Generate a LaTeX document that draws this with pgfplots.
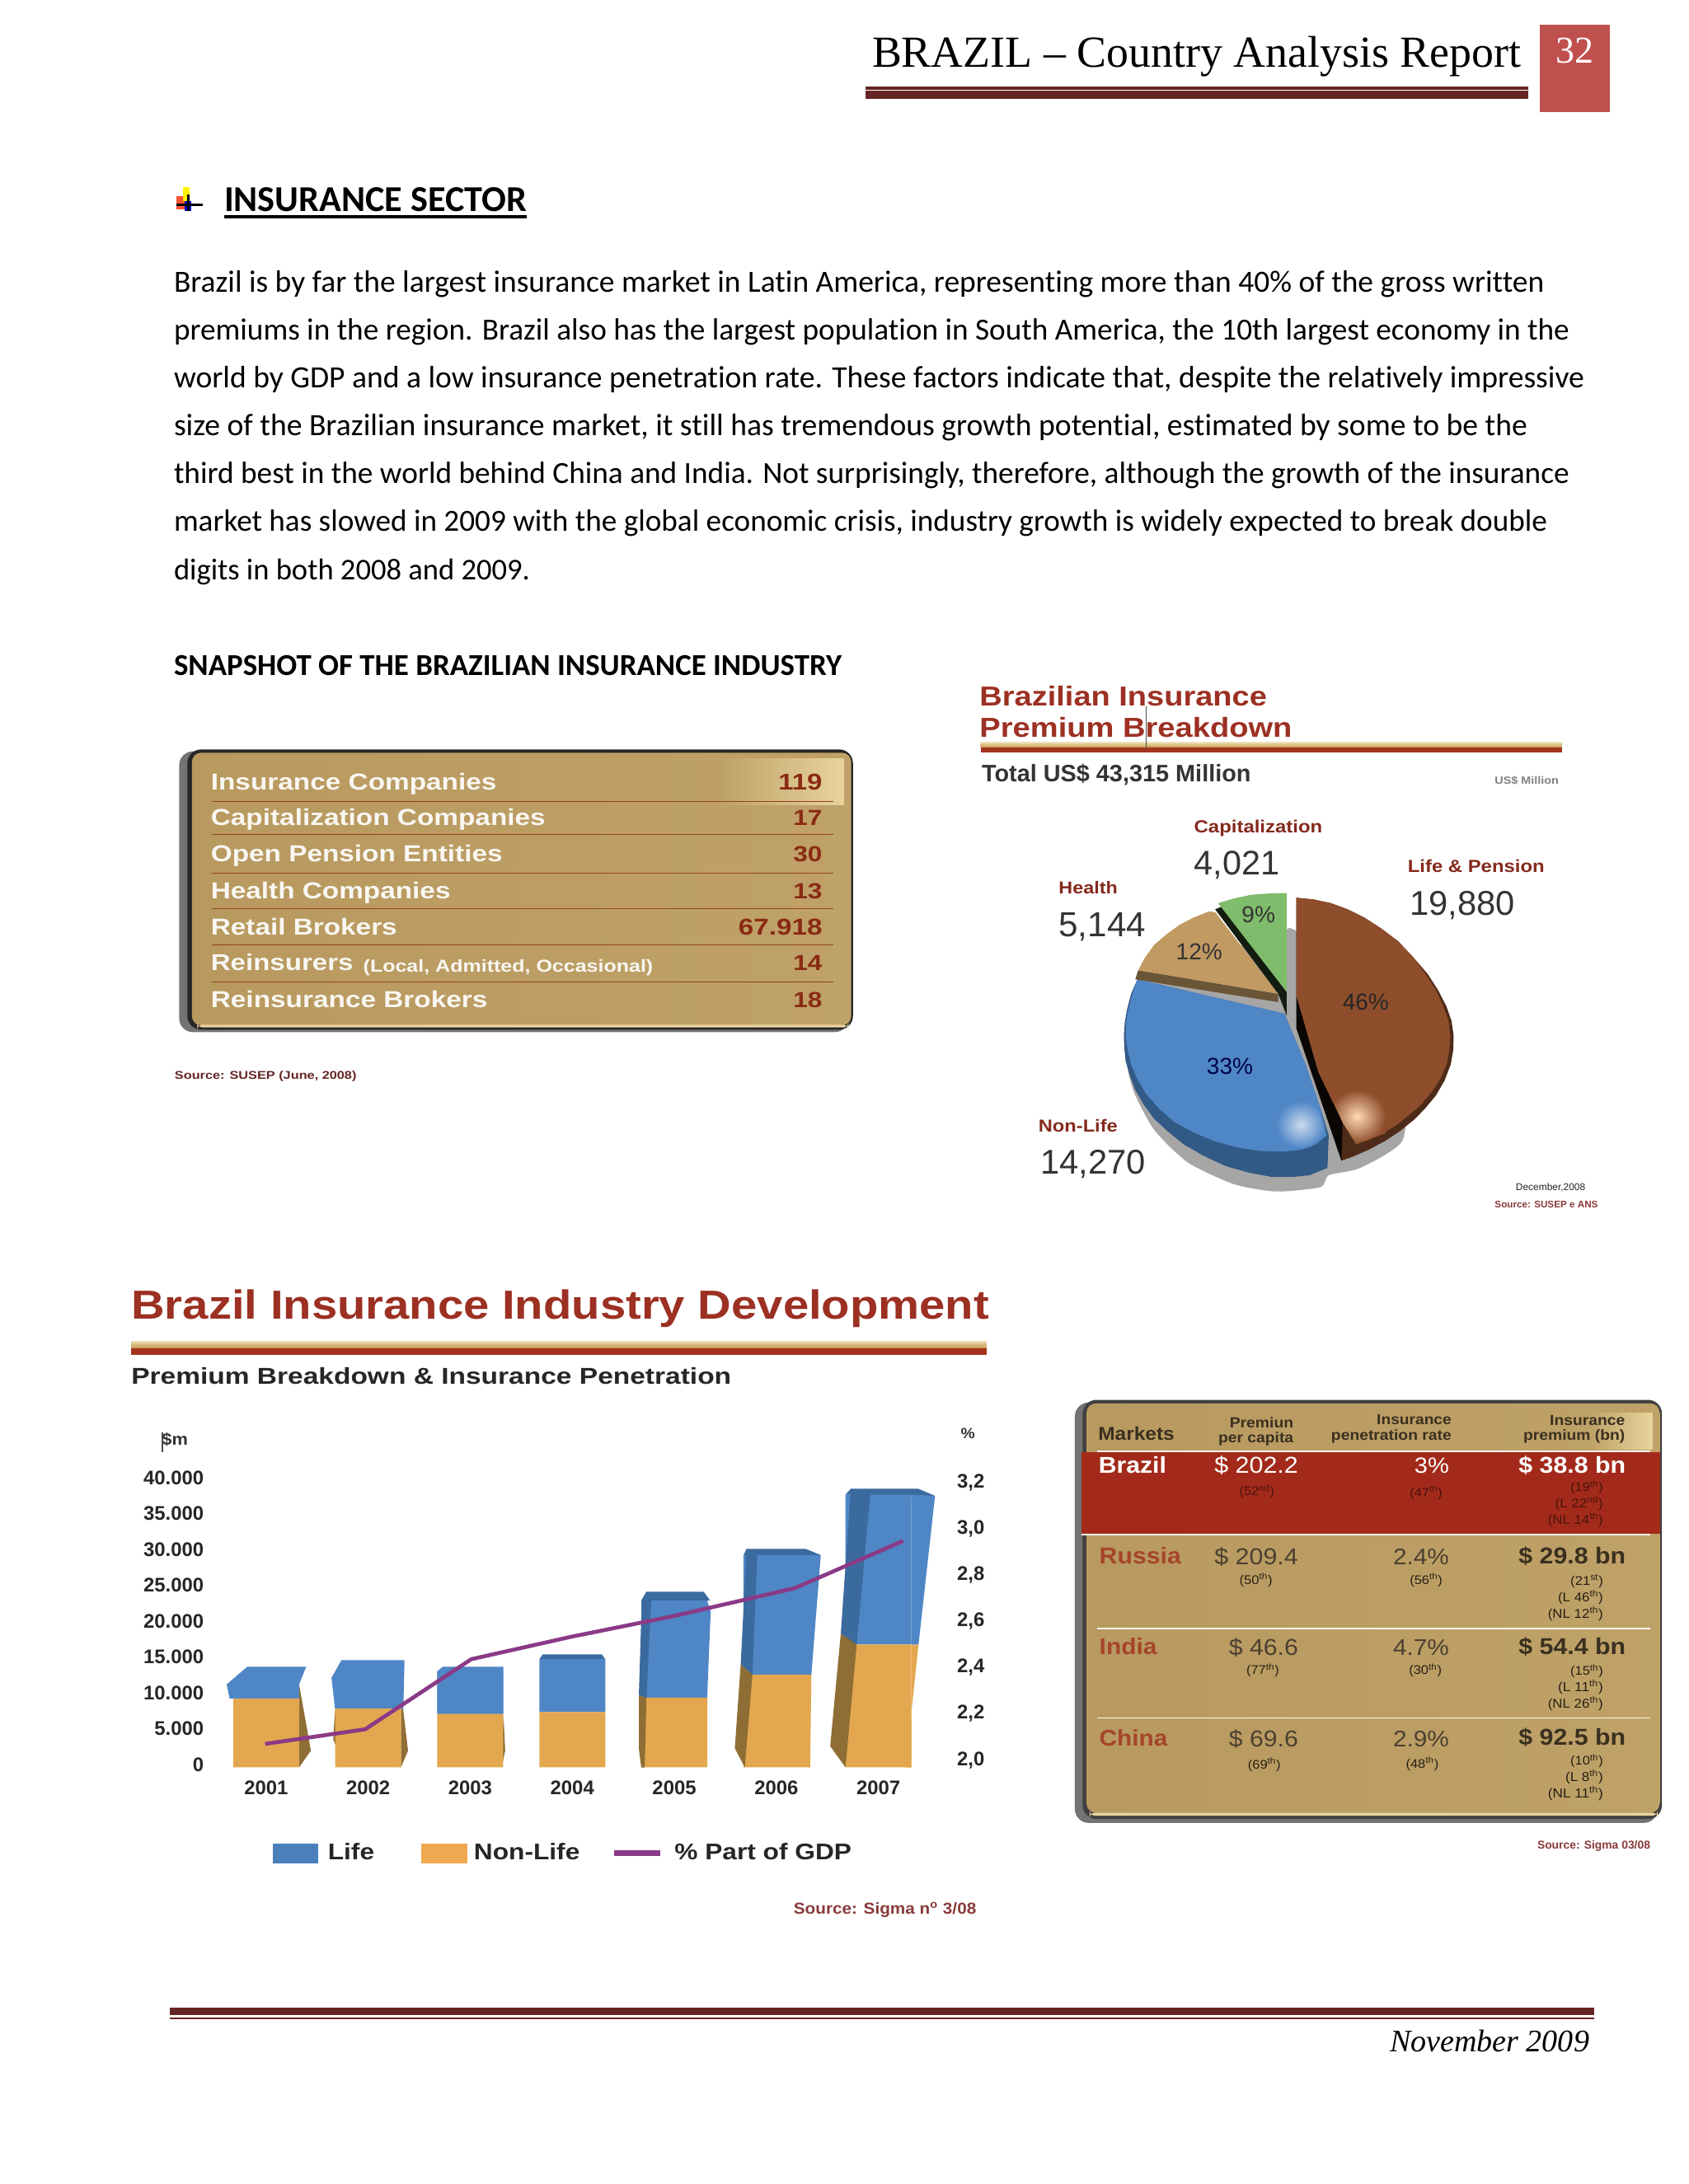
\documentclass[border=0pt]{standalone}
\usepackage{fontspec}
\usepackage{graphicx}
\usepackage{pgfplots}
\usepackage{pgfplotstable}
\pgfplotsset{compat=1.18}
\setmainfont{Liberation Sans}
\newfontfamily\calfont[Ligatures=NoCommon]{Carlito}
\newfontfamily\serfont{Liberation Serif}
\definecolor{hdr}{HTML}{652525}
\definecolor{pgbox}{HTML}{C0504D}
\definecolor{ttl}{HTML}{9C3022}
\definecolor{rulered}{HTML}{A5321F}
\definecolor{ruletan}{HTML}{C79A4C}
\definecolor{ruletanL}{HTML}{EADBB0}
\definecolor{barblue}{HTML}{4F86C6}
\definecolor{barblued}{HTML}{3B6A9E}
\definecolor{barorange}{HTML}{E3A84F}
\definecolor{barorangeL}{HTML}{F0A850}
\definecolor{barorangeD}{HTML}{8F6E35}
\definecolor{linepurple}{HTML}{8A3A86}
\definecolor{gold}{HTML}{B8995F}
\definecolor{goldL}{HTML}{E8D49C}
\definecolor{numred}{HTML}{8A2A14}
\definecolor{srcred}{HTML}{8A3A3A}
\definecolor{tcell}{HTML}{4A4030}
\definecolor{tbold}{HTML}{3A3020}
\definecolor{tcountry}{HTML}{A5452A}
\definecolor{tband}{HTML}{A32A1A}

\pgfplotstableread{
year nonlife life
2001 9600 1970
2002 8185 4305
2003 7445 5970
2004 7690 7390
2005 9720 13540
2006 12925 16675
2007 17110 20920
}\premiums

\pgfplotstableread{
year gdp
2000.99 2.065
2001.97 2.128
2003.01 2.431
2003.99 2.528
2005.00 2.618
2006.18 2.738
2007.24 2.942
}\penetration

% text placed by left end, baseline and width, in the frame (ox,oy,sx,sy)
\def\ox{0}\def\oy{0}\def\sx{1}\def\sy{1}\def\vs{1}
\newcommand{\Z}[5][]{%
  \pgfmathsetmacro\zA{\ox+(#2)/\sx}%
  \pgfmathsetmacro\zB{\oy+(#3)/\sy}%
  \pgfmathsetmacro\zW{(#4)/\sx*0.36}%
  \node[anchor=base west,inner sep=0pt,outer sep=0pt,#1] at (\zA,\zB)
    {\resizebox{\zW pt}{!}{\scalebox{1}[\vs]{#5}}};%
}
\newcommand{\R}[5][]{%
  \pgfmathsetmacro\zA{\ox+(#2)/\sx}%
  \pgfmathsetmacro\zB{\oy+(#3)/\sy}%
  \pgfmathsetmacro\zC{\ox+(#4)/\sx}%
  \pgfmathsetmacro\zD{\oy+(#5)/\sy}%
  \path[#1] (\zA,\zB) rectangle (\zC,\zD);%
}
\tikzset{
  hb/.style={font=\fontsize{10}{12}\bfseries\selectfont},
  hr/.style={font=\fontsize{10}{12}\selectfont},
  cb/.style={font=\fontsize{10}{12}\calfont\selectfont},
  cbb/.style={font=\fontsize{10}{12}\calfont\bfseries\selectfont},
  sr/.style={font=\fontsize{10}{12}\serfont\selectfont},
  si/.style={font=\fontsize{10}{12}\serfont\itshape\selectfont},
}
\pgfplotsset{
  zaxis/.style={axis lines=none,scale only axis,clip=false,
    xmin=0,xmax=1568,ymin=0,ymax=1568,y dir=reverse},
  face/.style={draw=none,fill=#1,mark=none},
}

\begin{document}
\begin{tikzpicture}
\path[use as bounding box,fill=white] (0,0) rectangle (737.28pt,-954pt);

\begin{scope}[x=0.36pt,y=-0.36pt]
% ---------- page header
\R[fill=hdr]{1050}{105}{1854}{109}
\R[fill=hdr]{1050}{110}{1854}{120}
\R[fill=pgbox]{1868}{30}{1953}{136}
\Z[sr]{1058}{81}{787}{BRAZIL – Country Analysis Report}
\Z[sr,text=white]{1887}{76}{46}{32}
% bullet
\R[fill=red!70!orange,opacity=.8]{214}{238}{226}{254}
\R[fill=yellow]{222}{227}{230}{244}
\R[fill=blue!80!black]{224}{244}{232}{256}
\R[fill=black]{214}{247}{246}{250}
\R[fill=black]{227}{236}{230}{256}
\Z[cbb]{272}{256}{367}{INSURANCE SECTOR}
\R[fill=black]{272}{261}{639}{265}
% ---------- body
\Z[cb]{211}{354}{1662}{Brazil is by far the largest insurance market in Latin America, representing more than 40\% of the gross written}
\Z[cb]{211}{412}{1693}{premiums in the region. Brazil also has the largest population in South America, the 10th largest economy in the}
\Z[cb]{211}{470}{1711}{world by GDP and a low insurance penetration rate. These factors indicate that, despite the relatively impressive}
\Z[cb]{211}{528}{1642}{size of the Brazilian insurance market, it still has tremendous growth potential, estimated by some to be the}
\Z[cb]{211}{586}{1693}{third best in the world behind China and India. Not surprisingly, therefore, although the growth of the insurance}
\Z[cb]{211}{644}{1666}{market has slowed in 2009 with the global economic crisis, industry growth is widely expected to break double}
\Z[cb]{211}{703}{432}{digits in both 2008 and 2009.}
\Z[cbb]{211}{819}{810}{SNAPSHOT OF THE BRAZILIAN INSURANCE INDUSTRY}
% ---------- footer
\R[fill=hdr]{206}{2436}{1934}{2445}
\R[fill=hdr]{206}{2448}{1934}{2450}
\Z[si]{1686}{2489}{242}{November 2009}

% ---------- left panel
\def\ox{190}\def\oy{880}\def\sx{1.823}\def\sy{3}\def\vs{0.84}
\R[fill=black!55,rounded corners=6pt]{50}{95}{1530}{1117}
\R[fill=black!85,rounded corners=6pt]{68}{88}{1540}{1108}
\R[left color=gold,right color=gold!85!goldL,rounded corners=4pt]{78}{100}{1536}{1092}
\R[left color=gold!85!goldL,right color=goldL]{1250}{120}{1520}{290}
\R[fill=goldL,rounded corners=2pt]{90}{1090}{1530}{1100}
\foreach \zz in {276,397,537,667,798,934}{\R[fill=numred!80!gold]{122}{\zz}{1497}{\zz+3}}
\tikzset{pl/.style={hb,text=white!92!gold},pn/.style={hb,text=numred}}
\Z[pl]{120}{235}{632}{Insurance Companies}
\Z[pl]{120}{365}{740}{Capitalization Companies}
\Z[pl]{120}{497}{645}{Open Pension Entities}
\Z[pl]{120}{630}{530}{Health Companies}
\Z[pl]{120}{762}{412}{Retail Brokers}
\Z[pl]{120}{893}{315}{Reinsurers}
\Z[pl]{457}{897}{641}{(Local, Admitted, Occasional)}
\Z[pl]{120}{1028}{612}{Reinsurance Brokers}
\Z[pn]{1375}{235}{97}{119}
\Z[pn]{1408}{365}{64}{17}
\Z[pn]{1408}{497}{64}{30}
\Z[pn]{1408}{630}{64}{13}
\Z[pn]{1287}{762}{185}{67.918}
\Z[pn]{1408}{893}{64}{14}
\Z[pn]{1408}{1028}{64}{18}
\Z[hb,text=hdr]{40}{1288}{402}{Source: SUSEP (June, 2008)}

% ---------- right table
\def\ox{1270}\def\oy{1660}\def\sx{2.119}\def\sy{2.751}\def\vs{0.92}
\R[fill=black!55,rounded corners=6pt]{72}{115}{1570}{1518}
\R[fill=black!75,rounded corners=6pt]{92}{106}{1581}{1505}
\R[left color=gold,right color=gold!85!goldL,rounded corners=4pt]{102}{118}{1575}{1484}
\R[left color=gold!85!goldL,right color=goldL]{1400}{150}{1557}{272}
\R[fill=goldL,rounded corners=2pt]{110}{1484}{1570}{1494}
\R[fill=tband]{90}{280}{1577}{553}
\foreach \zz/\zs in {275/130,552/90,866/130,1165/130}{\R[fill=white!85!goldL]{\zs}{\zz}{1551}{\zz+5}}
\tikzset{th/.style={hb,text=tbold},tc/.style={hr,text=tcell},tr/.style={hr,text=black!80!gold},
  bw/.style={hb,text=white},rw/.style={hr,text=white},bs/.style={hr,text=black!55!tband},
  cn/.style={hb,text=tcountry},bd/.style={hb,text=tbold}}
\Z[th]{132}{240}{196}{Markets}
\Z[th]{470}{198}{164}{Premiun}
\Z[th]{441}{250}{193}{per capita}
\Z[th]{848}{187}{192}{Insurance}
\Z[th]{731}{240}{309}{penetration rate}
\Z[th]{1293}{192}{193}{Insurance}
\Z[th]{1225}{240}{261}{premium (bn)}
% Brazil
\Z[bw]{133}{350}{174}{Brazil}
\Z[rw]{431}{352}{215}{\$ 202.2}
\Z[rw]{945}{352}{89}{3\%}
\Z[bw]{1213}{352}{275}{\$ 38.8 bn}
\Z[bs]{495}{425}{90}{(52\textsuperscript{nd})}
\Z[bs]{933}{430}{84}{(47\textsuperscript{th})}
\Z[bs]{1346}{412}{84}{(19\textsuperscript{th})}
\Z[bs]{1307}{465}{123}{(L 22\textsuperscript{nd})}
\Z[bs]{1288}{520}{142}{(NL 14\textsuperscript{th})}
% Russia
\Z[cn]{135}{652}{210}{Russia}
\Z[tc]{431}{657}{215}{\$ 209.4}
\Z[tc]{890}{657}{144}{2.4\%}
\Z[bd]{1213}{652}{275}{\$ 29.8 bn}
\Z[tr]{495}{722}{85}{(50\textsuperscript{th})}
\Z[tr]{933}{722}{84}{(56\textsuperscript{th})}
\Z[tr]{1346}{725}{84}{(21\textsuperscript{st})}
\Z[tr]{1314}{780}{116}{(L 46\textsuperscript{th})}
\Z[tr]{1288}{835}{142}{(NL 12\textsuperscript{th})}
% India
\Z[cn]{135}{957}{148}{India}
\Z[tc]{468}{960}{178}{\$ 46.6}
\Z[tc]{890}{960}{144}{4.7\%}
\Z[bd]{1213}{955}{275}{\$ 54.4 bn}
\Z[tr]{513}{1023}{84}{(77\textsuperscript{th})}
\Z[tr]{931}{1023}{84}{(30\textsuperscript{th})}
\Z[tr]{1346}{1025}{84}{(15\textsuperscript{th})}
\Z[tr]{1314}{1080}{116}{(L 11\textsuperscript{th})}
\Z[tr]{1288}{1135}{142}{(NL 26\textsuperscript{th})}
% China
\Z[cn]{135}{1260}{175}{China}
\Z[tc]{468}{1263}{178}{\$ 69.6}
\Z[tc]{890}{1263}{144}{2.9\%}
\Z[bd]{1213}{1258}{275}{\$ 92.5 bn}
\Z[tr]{517}{1338}{84}{(69\textsuperscript{th})}
\Z[tr]{923}{1335}{84}{(48\textsuperscript{th})}
\Z[tr]{1346}{1325}{84}{(10\textsuperscript{th})}
\Z[tr]{1333}{1380}{97}{(L 8\textsuperscript{th})}
\Z[tr]{1288}{1435}{142}{(NL 11\textsuperscript{th})}
\def\ox{0}\def\oy{0}\def\sx{1}\def\sy{1}\def\vs{1}
\Z[hb,text=srcred]{1865}{2243}{137}{Source: Sigma 03/08}

% ---------- pie headings
\def\ox{1140}\def\oy{790}\def\sx{1.96}\def\sy{2.272}\def\vs{0.875}
\Z[hb,text=ttl]{95}{150}{683}{Brazilian Insurance}
\Z[hb,text=ttl]{95}{237}{743}{Premium Breakdown}
\R[top color=ruletanL,bottom color=ruletan]{97}{252}{1480}{265}
\R[fill=rulered]{97}{265}{1480}{280}
\R[fill=black!70]{489}{152}{491}{272}
\def\vs{1}
\Z[hb,text=black!80]{100}{360}{640}{Total US\$ 43,315 Million}
\def\vs{0.89}
\Z[hb,text=black!50]{1320}{366}{152}{US\$ Million}
\Z[hb,text=ttl!85!black]{605}{500}{305}{Capitalization}
\Z[hb,text=ttl!85!black]{1113}{610}{325}{Life \& Pension}
\Z[hb,text=ttl!85!black]{283}{670}{140}{Health}
\Z[hb,text=ttl!85!black]{235}{1325}{188}{Non-Life}
\def\vs{1}
\Z[hr,text=black!80]{605}{617}{203}{4,021}
\Z[hr,text=black!80]{1118}{727}{250}{19,880}
\Z[hr,text=black!80]{283}{787}{207}{5,144}
\Z[hr,text=black!80]{240}{1442}{250}{14,270}
\Z[hr,text=black!85]{1370}{1488}{165}{December,2008}
\Z[hb,text=srcred]{1320}{1534}{245}{Source: SUSEP e ANS}

% ---------- bar chart headings
\def\ox{100}\def\oy{1500}\def\sx{1.4}\def\sy{1.867}\def\vs{0.875}
\Z[hb,text=ttl]{83}{186.7}{1457}{Brazil Insurance Industry Development}
\R[top color=ruletanL,bottom color=ruletan]{83}{238}{1536}{253}
\R[fill=rulered]{83}{253}{1536}{268}
\def\vs{0.83}
\Z[hb,text=black!85]{83}{335}{1019}{Premium Breakdown \& Insurance Penetration}
\def\vs{0.93}
\Z[hb,text=srcred]{1208}{1535}{310}{Source: Sigma n\textsuperscript{o} 3/08}
\Z[hb,text=black!80]{135}{474}{44}{\$m}
\R[fill=black!70]{135}{445}{137}{490}
\Z[hb,text=black!80]{1492}{458}{24}{\%}
\end{scope}

% ---------- pie (outline points)
\begin{axis}[zaxis,at={(410.4pt,-532.8pt)},anchor=south west,width=288pt,height=248.4pt]
 \addplot[face=black!35,smooth,tension=.4] coordinates {(825,770)(845,770)(1000,900)(1100,1200)(1100,1350)(1000,1425)(925,1445)(905,1478)(800,1490)(700,1470)(590,1410)(510,1320)(460,1210)(445,1110)(480,900)} --cycle;
 % blue
 \addplot[face=barblued!85!black] coordinates {(470,905)(455,945)(445,990)(440,1025)(438,1060)(439,1095)(442,1130)(452,1170)(465,1210)(485,1250)(510,1290)(543,1325)(580,1360)(628,1392)(680,1420)(735,1438)(790,1450)(840,1450)(880,1445)(922,1425)(925,1335)(905,1260)(870,1140)(820,1000)} --cycle;
 \addplot[face=barblue] coordinates {(470,905)(458,945)(448,990)(443,1025)(442,1060)(447,1100)(455,1140)(470,1180)(490,1220)(522,1262)(560,1300)(605,1328)(650,1350)(705,1368)(760,1378)(815,1380)(860,1375)(895,1360)(920,1335)(905,1260)(870,1140)(820,1000)} --cycle;
 \addplot[draw=none,shading=radial,inner color=white!70!barblue,outer color=barblue,mark=none] coordinates {(800,1240)(895,1240)(918,1330)(880,1368)(800,1372)} --cycle;
 % brown
 \definecolor{piebrown}{HTML}{8E4E2C}
 \addplot[face=black!45!piebrown] coordinates {(848,680)(890,685)(930,695)(970,712)(1010,735)(1050,765)(1090,800)(1125,843)(1160,890)(1185,935)(1205,980)(1217,1020)(1222,1060)(1221,1100)(1215,1140)(1200,1185)(1180,1225)(1155,1260)(1130,1290)(1095,1323)(1060,1350)(1020,1375)(980,1395)(955,1405)(945,1330)(900,1160)(848,950)} --cycle;
 \addplot[fill=black!95!brown,draw=none,mark=none] coordinates {(848,950)(848,1040)(955,1405)(958,1300)} --cycle;
 \addplot[face=piebrown] coordinates {(848,680)(890,685)(930,695)(970,712)(1010,735)(1050,765)(1090,800)(1125,843)(1155,890)(1180,935)(1198,980)(1210,1020)(1214,1060)(1212,1100)(1205,1140)(1190,1180)(1170,1215)(1145,1250)(1115,1280)(1085,1308)(1050,1332)(1020,1348)(990,1360)(958,1300)(900,1160)(848,950)} --cycle;
 \addplot[draw=none,shading=radial,inner color=white!70!orange,outer color=piebrown,mark=none] coordinates {(925,1210)(1060,1210)(1060,1330)(990,1358)(958,1300)} --cycle;
 % health
 \definecolor{pietan}{HTML}{C19A62}
 \addplot[face=pietan!55!black] coordinates {(472,880)(465,905)(805,968)(805,945)} --cycle;
 \addplot[face=pietan] coordinates {(640,718)(603,735)(570,755)(538,782)(510,810)(488,845)(472,880)(805,945)(655,720)} --cycle;
 % capitalization
 \definecolor{piegreen}{HTML}{7FBC6B}
 \addplot[face=black!85!piegreen] coordinates {(655,712)(670,705)(825,925)(825,1005)(805,945)} --cycle;
 \addplot[face=piegreen] coordinates {(662,695)(700,682)(740,672)(785,668)(825,667)(825,940)} --cycle;
 \node[font=\fontsize{10.1}{12}\selectfont,text=black!80] at (axis cs:758,727) {9\%};
 \node[font=\fontsize{10.1}{12}\selectfont,text=black!80] at (axis cs:617,828) {12\%};
 \node[font=\fontsize{10.1}{12}\selectfont,text=black!85] at (axis cs:1013,967) {46\%};
 \node[font=\fontsize{10.1}{12}\selectfont,text=blue!30!black] at (axis cs:690,1146) {33\%};
\end{axis}

% ---------- 3D faces behind the bars (zoom frame 100,1500)
\begin{axis}[zaxis,at={(36pt,-842.4pt)},anchor=south west,width=403.2pt,height=302.4pt]
 % 2001
 \addplot[face=barorangeD] coordinates {(368,1015)(388,1165)(368,1203)} --cycle;
 \addplot[face=barblue] coordinates {(245,1015)(280,975)(380,975)(368,1015)(368,1047)(250,1047)} --cycle;
 % 2002
 \addplot[face=barorangeD] coordinates {(541,1030)(553,1165)(541,1203)} --cycle;
 \addplot[face=barblue] coordinates {(423,1000)(440,960)(547,960)(545,1070)(429,1070)} --cycle;
 \addplot[face=barorangeD] coordinates {(429,1070)(426,1140)(434,1165)(434,1203)} --cycle;
 % 2003
 \addplot[face=barblue] coordinates {(603,985)(612,975)(715,975)(715,1082)(603,1082)} --cycle;
 \addplot[face=barorangeD] coordinates {(715,1082)(718,1165)(712,1203)} --cycle;
 % 2004
 \addplot[face=barblued] coordinates {(776,958)(782,947)(882,947)(888,958)} --cycle;
 % 2005
 \addplot[face=barblued] coordinates {(949,825)(958,805)(1055,805)(1066,825)} --cycle;
 \addplot[face=barblue] coordinates {(1061,825)(1067,850)(1061,1045)} --cycle;
 % 2006
 \addplot[face=barblued] coordinates {(1123,722)(1128,708)(1228,708)(1254,722)} --cycle;
 \addplot[face=barblue] coordinates {(1234,722)(1254,722)(1238,993)(1234,993)} --cycle;
 \addplot[face=barorange] coordinates {(1234,993)(1238,993)(1236,1203)(1234,1203)} --cycle;
 % 2007
 \addplot[face=barblued] coordinates {(1296,585)(1305,572)(1420,572)(1448,588)(1408,590)} --cycle;
 \addplot[face=barblue] coordinates {(1408,585)(1448,588)(1420,925)(1408,925)} --cycle;
 \addplot[face=barorange] coordinates {(1408,925)(1420,925)(1398,1203)(1408,1203)} --cycle;
\end{axis}

% ---------- stacked bars, left axis
\begin{axis}[at={(92.52pt,-771.98pt)},anchor=south west,scale only axis,
  width=318.96pt,height=131.62pt,
  ybar stacked,bar width=28.8pt,
  xmin=2000.468,xmax=2007.624,ymin=0,ymax=42000,
  axis x line*=bottom,axis y line*=left,x axis line style={draw=none},y axis line style={draw=none},
  xtick={2001,...,2007},xticklabels={2001,2002,2003,2004,2005,2006,2007},
  ytick={0,5000,...,40000},yticklabels={0,5.000,10.000,15.000,20.000,25.000,30.000,35.000,40.000},
  scaled y ticks=false,
  major tick length=0pt,
  tick label style={font=\fontsize{8.6}{10}\bfseries\selectfont,text=black!85},
  xticklabel style={yshift=-2.4pt},
  yticklabel style={yshift=1.2pt,xshift=0pt},
]
 \addplot[fill=barorange,draw=none] table[x=year,y=nonlife]{\premiums};
 \addplot[fill=barblue,draw=none] table[x=year,y=life]{\premiums};
\end{axis}

% ---------- dark left flanks, in front of the bars
\begin{axis}[zaxis,at={(36pt,-842.4pt)},anchor=south west,width=403.2pt,height=302.4pt]
 \addplot[face=barblued] coordinates {(950,825)(958,805)(966,825)(958,1045)(945,1040)} --cycle;
 \addplot[face=barorangeD] coordinates {(945,1040)(958,1045)(955,1203)(949,1203)(945,1160)} --cycle;
 \addplot[face=barblued] coordinates {(1128,708)(1146,722)(1138,993)(1118,970)} --cycle;
 \addplot[face=barorangeD] coordinates {(1118,970)(1138,993)(1125,1203)(1108,1160)} --cycle;
 \addplot[face=barblued] coordinates {(1305,572)(1338,585)(1315,925)(1288,900)} --cycle;
 \addplot[face=barorangeD] coordinates {(1288,900)(1315,925)(1296,1203)(1270,1155)} --cycle;
\end{axis}

% ---------- penetration line, right axis, and legend
\begin{axis}[at={(92.52pt,-771.98pt)},anchor=south west,scale only axis,
  width=318.96pt,height=131.62pt,
  xmin=2000.468,xmax=2007.624,ymin=1.9637,ymax=3.2659,
  axis x line=none,axis y line*=right,y axis line style={draw=none},
  ytick={2.0,2.2,...,3.2},yticklabels={{2,0},{2,2},{2,4},{2,6},{2,8},{3,0},{3,2}},
  major tick length=0pt,
  tick label style={font=\fontsize{8.6}{10}\bfseries\selectfont,text=black!85},
  yticklabel style={xshift=3pt,yshift=-.5pt},
  legend style={at={(26.6pt,-33.2pt)},anchor=north west,draw=none,fill=none,
    inner sep=0pt,outer sep=0pt,legend columns=3,
    font=\fontsize{11.4}{13}\bfseries\selectfont,text=black!85,
    /tikz/every even column/.append style={column sep=0pt},
    nodes={inner sep=0pt}},
  legend cell align=left,
]
 \addlegendimage{legend image code/.code={\fill[barblue!95!black] (0pt,-4.1pt) rectangle (19.4pt,4.1pt);}}
 \addlegendentry{\hspace{4.3pt}\scalebox{1}[.87]{Life}\hspace{20.5pt}\mbox{}}
 \addlegendimage{legend image code/.code={\fill[barorangeL] (0pt,-4.1pt) rectangle (19.8pt,4.1pt);}}
 \addlegendentry{\hspace{2.8pt}\scalebox{1}[.87]{Non-Life}\hspace{13.8pt}\mbox{}}
 \addlegendimage{legend image code/.code={\draw[linepurple,line width=2.4pt] (0pt,0pt) -- (20.2pt,0pt);}}
 \addlegendentry{\hspace{5pt}\scalebox{1}[.87]{\% Part of GDP}}
 \addplot[linepurple,line width=1.7pt,mark=none,forget plot] table[x=year,y=gdp]{\penetration};
\end{axis}
\end{tikzpicture}
\end{document}
